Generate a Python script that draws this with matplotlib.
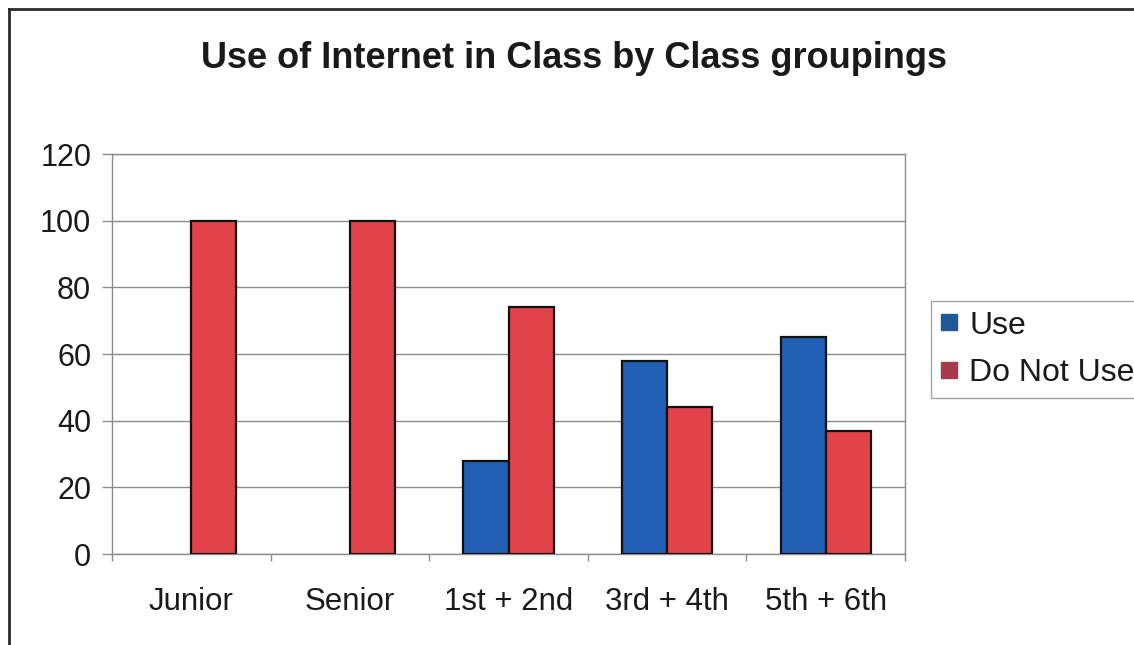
import numpy as np
import matplotlib
matplotlib.use("Agg")
import matplotlib.pyplot as plt
from matplotlib.lines import Line2D

# Chart data (percent of classes)
groups = ["Junior", "Senior", "1st + 2nd", "3rd + 4th", "5th + 6th"]
use_vals = [0, 0, 28, 58, 65]
not_use_vals = [100, 100, 74, 44, 37]
series_names = ["Use", "Do Not Use"]
yticks = [0, 20, 40, 60, 80, 100, 120]

plt.rcParams["font.family"] = ["Liberation Sans", "DejaVu Sans"]

W, H = 1134, 645
fig = plt.figure(figsize=(W / 100, H / 100), dpi=100)
fig.patch.set_facecolor("white")

ax = fig.add_axes([112 / W, 1 - 554 / H, (905 - 112) / W, 400 / H])

x = np.arange(len(groups))
bw = 0.284
blue = "#2160b4"
red = "#e2434a"

lw_use = [0 if v == 0 else 1.6 for v in use_vals]
lw_not = [0 if v == 0 else 1.6 for v in not_use_vals]
ax.bar(x - bw / 2, use_vals, bw, color=blue, edgecolor="#111111", linewidth=lw_use, zorder=3)
ax.bar(x + bw / 2, not_use_vals, bw, color=red, edgecolor="#111111", linewidth=lw_not, zorder=3)

ax.set_xlim(-0.5, len(groups) - 0.5)
ax.set_ylim(0, 120)
ax.set_yticks(yticks)
ax.yaxis.grid(True, color="#8c8c8c", linewidth=1.0, zorder=0)
ax.set_axisbelow(True)

for side in ["left", "bottom", "right", "top"]:
    ax.spines[side].set_color("#8c8c8c")
    ax.spines[side].set_linewidth(1.0)

ax.tick_params(axis="y", length=7, width=1, color="#8c8c8c", pad=8,
               labelsize=22, labelcolor="#1a1a1a")
ax.set_xticks(x)
ax.set_xticklabels(groups)
ax.set_xticks(np.arange(len(groups) + 1) - 0.5, minor=True)
ax.tick_params(axis="x", which="major", length=0, pad=24, labelsize=22.5, labelcolor="#1a1a1a")
ax.tick_params(axis="x", which="minor", length=5, width=1, color="#8c8c8c")

fig.text(574 / W, 1 - 68 / H, "Use of Internet in Class by Class groupings",
         ha="center", va="baseline", fontsize=26, fontweight="bold", color="#1a1a1a")

# legend with squares in slightly darker tones
handles = [Line2D([], [], marker="s", linestyle="none", markersize=12,
                  markerfacecolor=c, markeredgecolor=c)
           for c in ["#1f5996", "#a63b4c"]]
leg = fig.legend(handles, series_names, loc="upper left",
                 bbox_to_anchor=(931 / W, 1 - 301 / H), frameon=True, fancybox=False,
                 fontsize=23, handlelength=0.55, handletextpad=0.35, borderpad=0.3,
                 labelspacing=0.55, borderaxespad=0)
leg.get_frame().set_edgecolor("#8c8c8c")
leg.get_frame().set_linewidth(1.0)
for t in leg.get_texts():
    t.set_color("#1a1a1a")

# outer chart border (only top and left visible)
fig.add_artist(Line2D([9 / W, 1.0], [1 - 9 / H, 1 - 9 / H], color="#2a2a2a", linewidth=2))
fig.add_artist(Line2D([9 / W, 9 / W], [1 - 9 / H, 0], color="#2a2a2a", linewidth=2))

fig.savefig("out.png", dpi=100)
